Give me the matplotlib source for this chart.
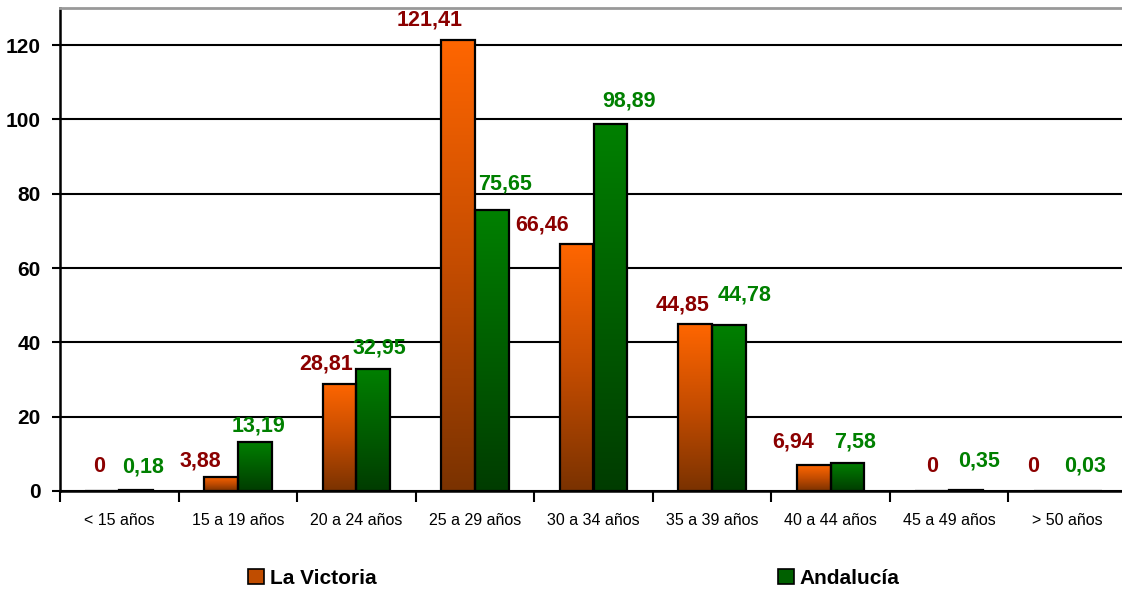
import numpy as np
import matplotlib.pyplot as plt
from matplotlib.colors import LinearSegmentedColormap
from matplotlib.patches import Patch

categories = ["< 15 años", "15 a 19 años", "20 a 24 años", "25 a 29 años",
              "30 a 34 años", "35 a 39 años", "40 a 44 años", "45 a 49 años",
              "> 50 años"]
victoria = [0, 3.88, 28.81, 121.41, 66.46, 44.85, 6.94, 0, 0]
andalucia = [0.18, 13.19, 32.95, 75.65, 98.89, 44.78, 7.58, 0.35, 0.03]
victoria_lbl = ["0", "3,88", "28,81", "121,41", "66,46", "44,85", "6,94", "0", "0"]
andalucia_lbl = ["0,18", "13,19", "32,95", "75,65", "98,89", "44,78", "7,58", "0,35", "0,03"]

# label placement in pixels: dx from category centre, y of label centre above zero
v_dx = [-20, -37, -30, -45, -51, -29, -37, -17, -35]
v_y = [25, 30, 127, 471, 266, 186, 49, 25, 24]
a_dx = [24, 21, 23, 30, 36, 33, 24, 30, 17]
a_y = [24, 65, 143, 307, 390, 196, 49, 30, 25]

plt.rcParams['font.family'] = ['Liberation Sans', 'DejaVu Sans']

fig = plt.figure(figsize=(11.22, 5.92), dpi=100)
ax = fig.add_axes([60 / 1122, 1 - 491 / 592, 1067 / 1122, 483 / 592])

x = np.arange(len(categories))
w = 0.285
cm_or = LinearSegmentedColormap.from_list("or", ["#7a3200", "#c44c00", "#ff6600"])
cm_gr = LinearSegmentedColormap.from_list("gr", ["#003c00", "#005e00", "#008000"])
grad = np.linspace(0, 1, 256).reshape(-1, 1)

bars_v = ax.bar(x - w / 2, victoria, w, facecolor="none", edgecolor="black", lw=1.6, zorder=4)
bars_a = ax.bar(x + w / 2, andalucia, w, facecolor="none", edgecolor="black", lw=1.6, zorder=4)
for bars, cm in ((bars_v, cm_or), (bars_a, cm_gr)):
    for b in bars:
        h = b.get_height()
        if h <= 0:
            continue
        x0 = b.get_x()
        ax.imshow(grad, cmap=cm, origin="lower", aspect="auto",
                  extent=(x0, x0 + b.get_width(), 0, h), zorder=3)

ax.set_xlim(-0.5, len(categories) - 0.5)
ax.set_ylim(0, 130)
ax.set_yticks(range(0, 121, 20))
ax.set_xticks(x)
ax.set_xticklabels(categories, fontsize=11.5)
ax.set_xticks(np.arange(-0.5, len(categories), 1), minor=True)
ax.tick_params(axis="x", which="major", length=0, pad=16)
ax.tick_params(axis="x", which="minor", length=8, width=1.5)
ax.tick_params(axis="y", length=6, width=1.5, labelsize=15, pad=8)
for t in ax.get_yticklabels():
    t.set_fontweight("bold")
ax.grid(axis="y", color="black", lw=1.5, zorder=1)
ax.set_axisbelow(True)
for s in ("left", "bottom"):
    ax.spines[s].set_linewidth(1.8)
ax.spines["right"].set_visible(False)
ax.spines["top"].set_color("#999999")
ax.spines["top"].set_linewidth(2)

px = 1067 / len(categories)  # pixels per category
upx = 130 / 483  # data units per pixel (y)
for i in range(len(categories)):
    ax.text(x[i] + v_dx[i] / px, v_y[i] * upx, victoria_lbl[i],
            color="#8b0000", fontsize=15.5, fontweight="bold",
            ha="center", va="center", zorder=5)
    ax.text(x[i] + a_dx[i] / px, a_y[i] * upx, andalucia_lbl[i],
            color="#008000", fontsize=15.5, fontweight="bold",
            ha="center", va="center", zorder=5)

handles = [Patch(facecolor="#c04d00", edgecolor="black", lw=1.2),
           Patch(facecolor="#006000", edgecolor="black", lw=1.2)]
fig.legend(handles, ["La Victoria", "Andalucía"], loc="center",
           bbox_to_anchor=(574 / 1122, 1 - 578 / 592), ncol=2, frameon=False,
           prop={"size": 15, "weight": "bold"}, handlelength=0.75,
           handleheight=0.75, handletextpad=0.3, columnspacing=19.25)

fig.savefig("out.png", dpi=100)
